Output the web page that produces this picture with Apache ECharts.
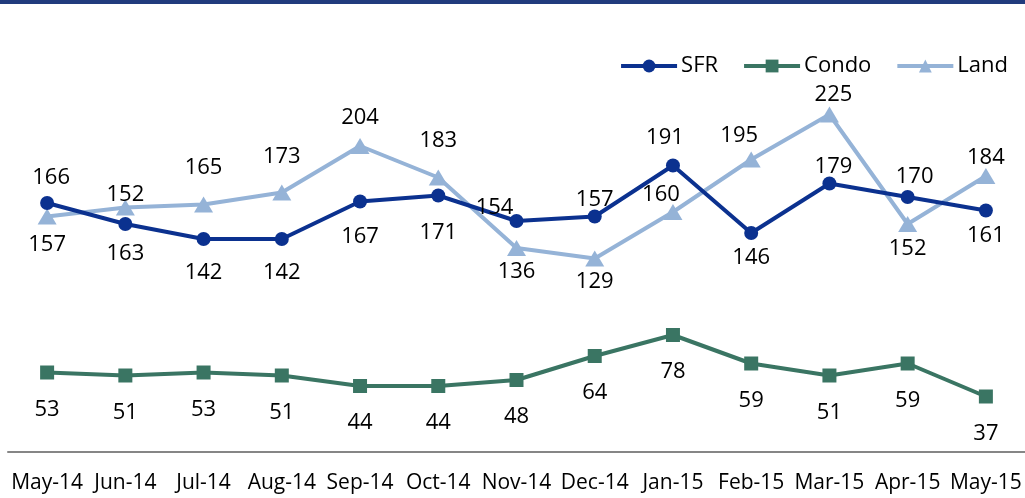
<!DOCTYPE html>
<html lang="en">
<head>
    <meta charset="UTF-8">
    <title>SFR / Condo / Land</title>
    <script src="https://cdn.jsdelivr.net/npm/echarts@6/dist/echarts.min.js"></script>
    <style>
        body { margin: 0; background: #fff; }
        #topbar { position: absolute; left: 0; top: 0; width: 1025px; height: 4px; background: #213b7d; }
        #chart { width: 1025px; height: 498px; }
    </style>
</head>
<body>
    <div id="topbar"></div>
    <div id="chart"></div>
</body>
</html>
<script type="text/javascript">
    // categories and values
    var months = ['May-14', 'Jun-14', 'Jul-14', 'Aug-14', 'Sep-14', 'Oct-14', 'Nov-14',
                  'Dec-14', 'Jan-15', 'Feb-15', 'Mar-15', 'Apr-15', 'May-15'];
    var sfr   = [166, 152, 142, 142, 167, 171, 154, 157, 191, 146, 179, 170, 161];
    var condo = [53, 51, 53, 51, 44, 44, 48, 64, 78, 59, 51, 59, 37];
    var land  = [157, 163, 165, 173, 204, 183, 136, 129, 160, 195, 225, 152, 184];

    // text shown next to each point (Jun-14 labels sit swapped in the original)
    var sfrText  = ['166', '163', '142', '142', '167', '171', '154', '157', '191', '146', '179', '170', '161'];
    var landText = ['157', '152', '165', '173', '204', '183', '136', '129', '160', '195', '225', '152', '184'];

    // label placement: offset of the label centre from its point, px (negative = above)
    var sfrLabelDy  = [-25, 30, 34, 34, 35, 37, -13, -17, -28, 25, -17, -20, 25];
    var sfrLabelDx  = [4, 0, 0, 0, 0, 0, -22, 0, -8, 0, 4, 7, 0];
    var landLabelDy = [28, -13, -37, -36, -28, -37, 24, 23, -17, -24, -20, 25, -18];
    var landLabelDx = [0, 0, 0, 0, 0, 0, 0, 0, -12, -12, 4, 0, 0];
    var condoLabelDy = 37;

    var font = '"Open Sans", Lato, sans-serif';

    function withLabels(vals, texts, dx, dy) {
        return vals.map(function (v, i) {
            return {
                value: v,
                label: { position: 'inside', offset: [dx[i], dy[i]], formatter: texts[i] }
            };
        });
    }

    var chart = echarts.init(document.getElementById('chart'));

    var lbl = { show: true, color: '#000', fontSize: 22, fontFamily: font };

    var option = {
        animation: false,
        grid: { left: 8, right: -6, top: 77, bottom: 46 },
        legend: {
            right: 12, top: 50,
            itemWidth: 56, itemHeight: 16, itemGap: 24,
            lineStyle: { width: 4 },
            textStyle: { fontSize: 22, fontFamily: font, color: '#000', padding: [0, 0, 0, -1] },
            data: ['SFR', 'Condo', 'Land']
        },
        xAxis: {
            type: 'category',
            data: months,
            boundaryGap: true,
            axisLine: { lineStyle: { color: '#868686', width: 2 } },
            axisTick: { show: false },
            axisLabel: { color: '#000', fontSize: 21, fontFamily: font, margin: 21, interval: 0 }
        },
        yAxis: {
            type: 'value', min: 0, max: 250,
            show: false,
            splitLine: { show: false }
        },
        series: [
            {
                name: 'SFR', type: 'line', z: 3,
                data: withLabels(sfr, sfrText, sfrLabelDx, sfrLabelDy),
                symbol: 'circle', symbolSize: 14,
                lineStyle: { width: 4, color: '#0b318f' },
                itemStyle: { color: '#0b318f' },
                label: lbl
            },
            {
                name: 'Condo', type: 'line', z: 2,
                data: condo,
                symbol: 'rect', symbolSize: 14,
                lineStyle: { width: 4, color: '#3a7563' },
                itemStyle: { color: '#3a7563' },
                label: Object.assign({}, lbl, { position: 'inside', offset: [0, condoLabelDy] })
            },
            {
                name: 'Land', type: 'line', z: 2,
                data: withLabels(land, landText, landLabelDx, landLabelDy),
                symbol: 'triangle', symbolSize: [19, 16],
                lineStyle: { width: 4, color: '#95b3d7' },
                itemStyle: { color: '#95b3d7' },
                label: lbl
            }
        ]
    };

    chart.setOption(option);
</script>
